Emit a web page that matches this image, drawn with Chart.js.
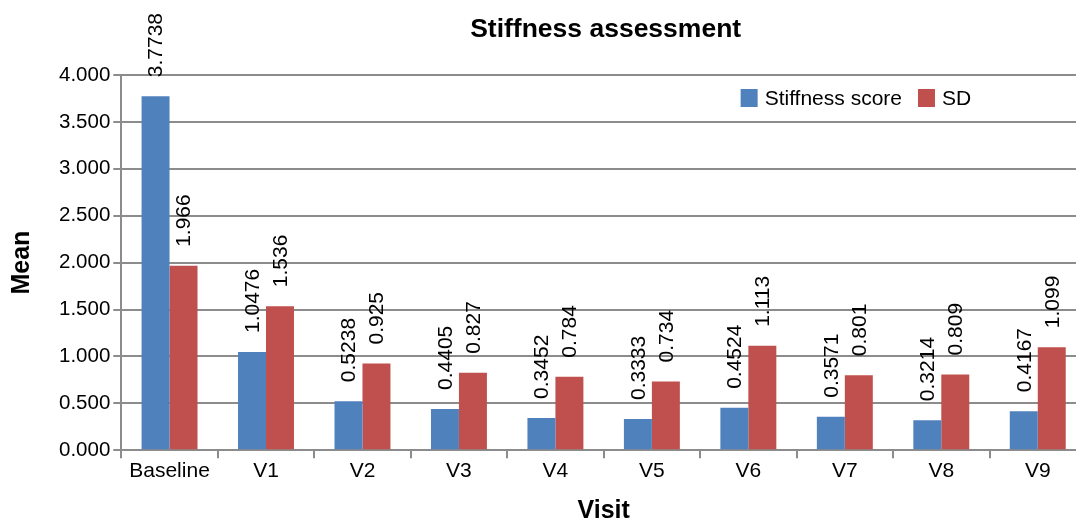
<!DOCTYPE html>
<html>
<head>
<meta charset="utf-8">
<script src="https://cdn.jsdelivr.net/npm/chart.js@4.4.1/dist/chart.umd.min.js"></script>
<style>
  html, body { margin: 0; padding: 0; background: #fff; overflow: hidden; }
  #wrap { position: relative; width: 1090px; height: 520px; }
</style>
</head>
<body>
<div id="wrap"><canvas id="c"></canvas></div>
<script>
const categories = ['Baseline', 'V1', 'V2', 'V3', 'V4', 'V5', 'V6', 'V7', 'V8', 'V9'];
const stiffnessScore = [3.7738, 1.0476, 0.5238, 0.4405, 0.3452, 0.3333, 0.4524, 0.3571, 0.3214, 0.4167];
const sdValues = [1.966, 1.536, 0.925, 0.827, 0.784, 0.734, 1.113, 0.801, 0.809, 1.099];
const seriesNames = ['Stiffness score', 'SD'];
const seriesColors = ['#4F81BD', '#C0504D'];
const yTicks = [0, 0.5, 1, 1.5, 2, 2.5, 3, 3.5, 4];
const chartTitle = 'Stiffness assessment';
const xTitle = 'Visit';
const yTitle = 'Mean';

const FONT = '"Liberation Sans", Arial, Helvetica, sans-serif';
const GRID = '#8c8c8c';

const titlePlugin = {
  id: 'centerTitle',
  afterDraw(chart) {
    const ctx = chart.ctx, a = chart.chartArea;
    ctx.save();
    ctx.font = 'bold 26.5px ' + FONT;
    ctx.fillStyle = '#000';
    ctx.textAlign = 'center';
    ctx.textBaseline = 'middle';
    ctx.fillText(chartTitle, (a.left + a.right) / 2 + 2, 30);
    ctx.restore();
  }
};

const legendPlugin = {
  id: 'innerLegend',
  afterDraw(chart) {
    const ctx = chart.ctx, a = chart.chartArea;
    ctx.save();
    ctx.font = '21px ' + FONT;
    ctx.textBaseline = 'middle';
    ctx.textAlign = 'left';
    let x = a.left + 0.642 * (a.right - a.left);
    const yc = a.top + 23;
    seriesNames.forEach((name, i) => {
      ctx.fillStyle = seriesColors[i];
      ctx.fillRect(x, yc - 9, 17, 18);
      x += 17 + 7;
      ctx.fillStyle = '#000';
      ctx.fillText(name, x, yc + 1);
      x += ctx.measureText(name).width + 16;
    });
    ctx.restore();
  }
};

const labelPlugin = {
  id: 'barLabels',
  afterDatasetsDraw(chart) {
    const ctx = chart.ctx;
    ctx.save();
    ctx.font = '21px ' + FONT;
    ctx.fillStyle = '#000';
    ctx.textAlign = 'left';
    ctx.textBaseline = 'middle';
    chart.data.datasets.forEach((ds, di) => {
      const meta = chart.getDatasetMeta(di);
      meta.data.forEach((el, i) => {
        ctx.save();
        ctx.translate(el.x + 1, el.y - 19);
        ctx.rotate(-Math.PI / 2);
        ctx.fillText(String(ds.data[i]), 0, 0);
        ctx.restore();
      });
    });
    ctx.restore();
  }
};

new Chart(document.getElementById('c'), {
  type: 'bar',
  data: {
    labels: categories,
    datasets: [
      { label: seriesNames[0], data: stiffnessScore, backgroundColor: seriesColors[0],
        borderWidth: 0, categoryPercentage: 0.58, barPercentage: 1.0 },
      { label: seriesNames[1], data: sdValues, backgroundColor: seriesColors[1],
        borderWidth: 0, categoryPercentage: 0.58, barPercentage: 1.0 }
    ]
  },
  options: {
    responsive: true,
    maintainAspectRatio: false,
    devicePixelRatio: 1,
    animation: false,
    layout: { padding: { top: 75, right: 4, bottom: -2, left: 0 } },
    plugins: {
      legend: { display: false },
      title: { display: false },
      tooltip: { enabled: false }
    },
    scales: {
      x: {
        offset: true,
        grid: { display: true, drawOnChartArea: false, drawTicks: true, tickLength: 8, color: GRID, lineWidth: 2, offset: true },
        border: { display: true, color: GRID, width: 2 },
        ticks: { font: { family: FONT, size: 21 }, color: '#000', padding: 0, maxRotation: 0, autoSkip: false },
        title: { display: true, text: xTitle, color: '#000', font: { family: FONT, size: 25, weight: 'bold', lineHeight: 0.9 }, padding: { top: 16, bottom: 0 } }
      },
      y: {
        min: 0,
        max: 4,
        afterBuildTicks(scale) { scale.ticks = yTicks.map(v => ({ value: v })); },
        grid: { color: GRID, lineWidth: 2, drawTicks: true, tickLength: 8 },
        border: { display: true, color: GRID, width: 2 },
        ticks: { font: { family: FONT, size: 20.5 }, color: '#000', padding: 3, callback: v => Number(v).toFixed(3) },
        title: { display: true, text: yTitle, color: '#000', font: { family: FONT, size: 25, weight: 'bold', lineHeight: 1.2 }, padding: { top: 7, bottom: 19 } }
      }
    }
  },
  plugins: [titlePlugin, legendPlugin, labelPlugin]
});
</script>
</body>
</html>
